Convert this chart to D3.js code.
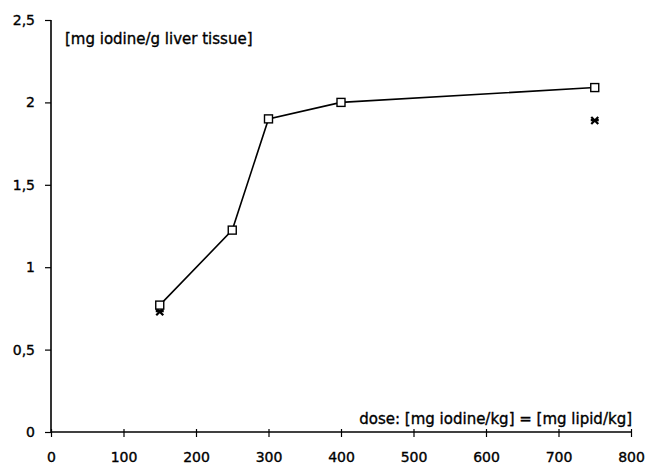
<!DOCTYPE html>
<html>
<head>
<meta charset="utf-8">
<script src="https://cdn.jsdelivr.net/npm/d3@7"></script>
<style>
body { margin: 0; background: #fff; }
text { font-family: "DejaVu Sans", sans-serif; fill: #000; stroke: #000; stroke-width: 0.35px; }
</style>
</head>
<body>
<div id="vis"></div>
<script>
var width = 650,
    height = 468;

// data
var doses = [150, 250, 300, 400, 750];
var liverIodine = [0.77, 1.225, 1.90, 2.0, 2.09];
var starDoses = [150, 750];
var starValues = [0.73, 1.89];
var xTicks = [0, 100, 200, 300, 400, 500, 600, 700, 800];
var yTicks = [0, 0.5, 1, 1.5, 2, 2.5];

var svg = d3.select("#vis").append("svg")
    .attr("width", width)
    .attr("height", height);

var x = d3.scaleLinear().domain([0, 800]).range([51, 631]);
var y = d3.scaleLinear().domain([0, 2.5]).range([432, 20]);

var fmt = function(d) { return String(d).replace(".", ","); };

// y axis
var yAxis = svg.append("g")
    .attr("transform", "translate(" + x(0) + ",0)")
    .call(d3.axisLeft(y).tickValues(yTicks).tickSize(6).tickPadding(10).tickFormat(fmt));

// x axis
var xAxis = svg.append("g")
    .attr("transform", "translate(0," + y(0) + ")")
    .call(d3.axisBottom(x).tickValues(xTicks).tickSize(5).tickPadding(15).tickFormat(function(d) { return d; }));

xAxis.selectAll(".tick line").attr("y1", -3);

[yAxis, xAxis].forEach(function(a) {
    a.select(".domain").attr("stroke", "#000").attr("stroke-width", 1.6);
    a.selectAll(".tick line").attr("stroke", "#000").attr("stroke-width", 1.2);
    a.selectAll("text")
        .style("font-family", "'DejaVu Sans', sans-serif")
        .style("font-size", "14px")
        .attr("fill", "#000");
});
// no outer tick stubs
yAxis.select(".domain").attr("d", "M0," + y(2.5) + "V" + y(0));
xAxis.select(".domain").attr("d", "M" + x(0) + ",0H" + x(800));

// line
var pts = doses.map(function(d, i) { return [d, liverIodine[i]]; });
svg.append("path")
    .datum(pts)
    .attr("fill", "none")
    .attr("stroke", "#000")
    .attr("stroke-width", 1.6)
    .attr("d", d3.line().x(function(d) { return x(d[0]); }).y(function(d) { return y(d[1]); }));

// star markers
var stars = starDoses.map(function(d, i) { return [d, starValues[i]]; });
svg.selectAll(".star")
    .data(stars)
    .enter()
    .append("path")
    .attr("class", "star")
    .attr("transform", function(d) { return "translate(" + x(d[0]) + "," + y(d[1]) + ")"; })
    .attr("d", "M-3.5,-3.5L3.5,3.5M-3.5,3.5L3.5,-3.5M-4,-0.5H4")
    .attr("stroke", "#000")
    .attr("stroke-width", 2.2);

// square markers
svg.selectAll(".pt")
    .data(pts)
    .enter()
    .append("rect")
    .attr("class", "pt")
    .attr("x", function(d) { return x(d[0]) - 4; })
    .attr("y", function(d) { return y(d[1]) - 4; })
    .attr("width", 8)
    .attr("height", 8)
    .attr("fill", "#fff")
    .attr("stroke", "#000")
    .attr("stroke-width", 1.4);

// axis titles
svg.append("text")
    .attr("x", 65)
    .attr("y", 44)
    .style("font-size", "15px")
    .text("[mg iodine/g liver tissue]");

svg.append("text")
    .attr("x", 632)
    .attr("y", 424)
    .attr("text-anchor", "end")
    .style("font-size", "15px")
    .text("dose: [mg iodine/kg] = [mg lipid/kg]");
</script>
</body>
</html>
